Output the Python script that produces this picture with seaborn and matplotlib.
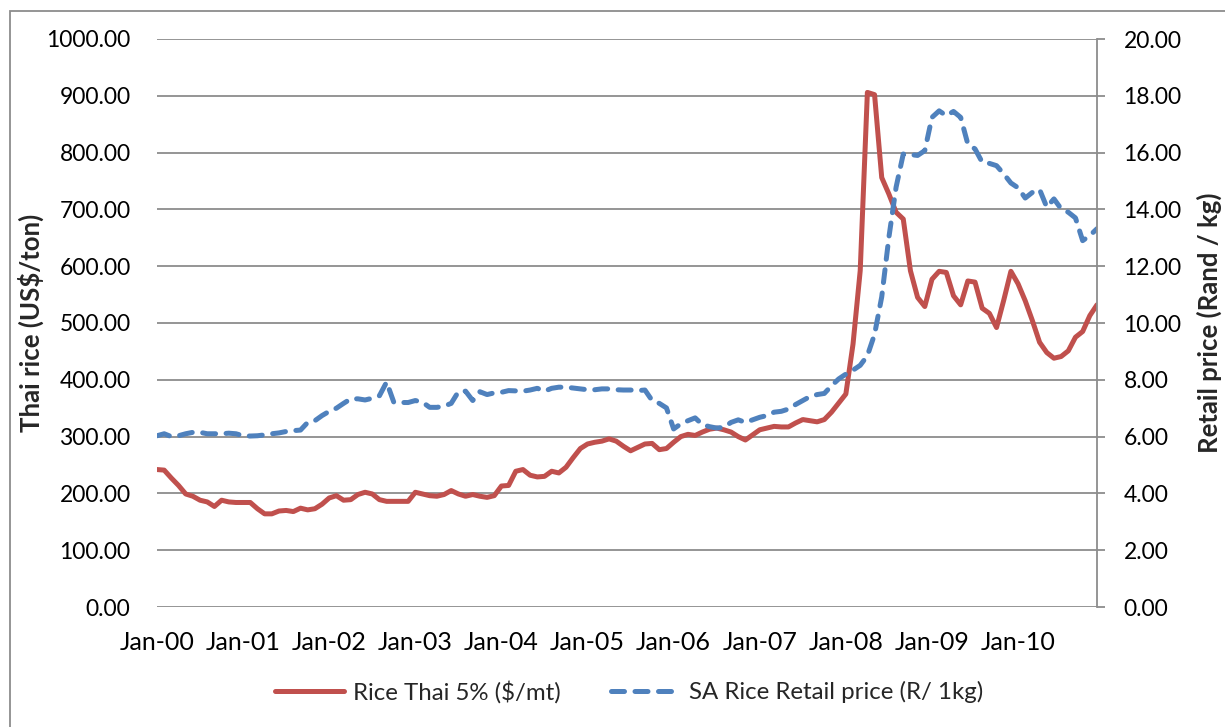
import numpy as np
import pandas as pd
import matplotlib
matplotlib.use("Agg")
import matplotlib.pyplot as plt
import seaborn as sns
from matplotlib.lines import Line2D
from matplotlib.patches import Rectangle

# ---------------- data (monthly, Jan-2000 .. Dec-2010) ----------------
thai_rice = [242, 241, 227, 214, 199, 195, 188, 185, 177, 188, 185, 184,
             184, 184, 173, 164, 164, 169, 170, 168, 174, 171, 173, 181,
             192, 196, 188, 189, 198, 202, 199, 189, 186, 186, 186, 186,
             202, 199, 196, 195, 198, 205, 199, 195, 198, 195, 193, 196,
             213, 214, 239, 242, 232, 229, 230, 239, 236, 246, 263, 279,
             287, 290, 292, 296, 292, 283, 275, 281, 287, 288, 277, 279,
             290, 300, 304, 302, 308, 313, 315, 312, 308, 300, 294, 303,
             312, 315, 318, 317, 317, 324, 330, 328, 326, 330, 343, 359,
             375, 463, 592, 906, 902, 756, 727, 695, 683, 592, 545, 529,
             577, 591, 589, 548, 532, 574, 572, 526, 517, 492, 540, 591,
             569, 539, 504, 466, 448, 438, 441, 451, 475, 485, 513, 532]

sa_retail = [6.03, 6.10, 6.00, 6.03, 6.10, 6.15, 6.15, 6.10, 6.10, 6.10, 6.12, 6.10,
             6.03, 6.02, 6.03, 6.06, 6.10, 6.13, 6.18, 6.21, 6.23, 6.50, 6.56, 6.74,
             6.89, 7.00, 7.17, 7.33, 7.33, 7.29, 7.35, 7.44, 7.92, 7.21, 7.20, 7.20,
             7.27, 7.21, 7.03, 7.03, 7.07, 7.17, 7.58, 7.60, 7.27, 7.58, 7.48, 7.54,
             7.56, 7.62, 7.61, 7.60, 7.64, 7.70, 7.60, 7.70, 7.74, 7.74, 7.71, 7.68,
             7.65, 7.65, 7.68, 7.68, 7.65, 7.64, 7.64, 7.62, 7.64, 7.27, 7.17, 7.01,
             6.27, 6.45, 6.56, 6.66, 6.42, 6.35, 6.30, 6.33, 6.50, 6.59, 6.50, 6.59,
             6.68, 6.74, 6.86, 6.89, 6.97, 7.13, 7.27, 7.41, 7.48, 7.52, 7.79, 8.03,
             8.20, 8.34, 8.51, 8.85, 9.60, 10.92, 13.02, 14.78, 15.95, 15.93, 15.90, 16.07,
             17.24, 17.47, 17.30, 17.45, 17.24, 16.30, 16.13, 15.66, 15.62, 15.54, 15.25, 14.93,
             14.76, 14.40, 14.60, 14.70, 14.08, 14.37, 14.02, 13.90, 13.70, 12.90, 13.08, 13.32]

month_index = list(range(len(thai_rice)))
x_tick_labels = ["Jan-00", "Jan-01", "Jan-02", "Jan-03", "Jan-04", "Jan-05",
                 "Jan-06", "Jan-07", "Jan-08", "Jan-09", "Jan-10"]
left_ticks = [0, 100, 200, 300, 400, 500, 600, 700, 800, 900, 1000]
right_ticks = [0, 2, 4, 6, 8, 10, 12, 14, 16, 18, 20]

series_thai = "Rice Thai 5% ($/mt)"
series_sa = "SA Rice Retail price (R/ 1kg)"

df = pd.DataFrame({"month": month_index, "thai": thai_rice, "sa": sa_retail})

# ---------------- style ----------------
sns.set_style("white")
plt.rcParams["font.family"] = ["Lato", "DejaVu Sans"]

RED = "#C0504D"
BLUE = "#4F81BD"
GRID = "#8C8C8C"
FS_NUM = 16.5
FS_TXT = 18.5
FS_LEG = 17.3
LW = 3.6
DASH = [2.6, 2.1]

W, H = 1225, 727
fig = plt.figure(figsize=(W / 100, H / 100), dpi=100)
L, R, T, B = 157, 1097, 39, 607
ax = fig.add_axes([L / W, 1 - B / H, (R - L) / W, (B - T) / H])
ax2 = ax.twinx()

sns.lineplot(data=df, x="month", y="thai", ax=ax, color=RED, linewidth=LW,
             label=series_thai, legend=False)
sns.lineplot(data=df, x="month", y="sa", ax=ax2, color=BLUE, linewidth=LW,
             label=series_sa, legend=False)
blue_line = ax2.lines[-1]
blue_line.set_linestyle((0, DASH))
blue_line.set_dash_capstyle("round")
ax.lines[-1].set_solid_joinstyle("round")

ax.set_xlim(0, len(thai_rice) - 1)
ax.set_ylim(0, 1000)
ax2.set_ylim(0, 20)

ax.set_xticks(month_index[::12])
ax.set_xticklabels(x_tick_labels)
ax.set_yticks(left_ticks)
ax.set_yticklabels([f"{v:.2f}" for v in left_ticks])
ax2.set_yticks(right_ticks)
ax2.set_yticklabels([f"{v:.2f}" for v in right_ticks])

ax.yaxis.grid(True, color=GRID, linewidth=1.3)
ax.xaxis.grid(False)
ax.set_axisbelow(True)

for s in ["left", "top", "right", "bottom"]:
    ax.spines[s].set_visible(False)
for s in ["left", "top", "bottom"]:
    ax2.spines[s].set_visible(False)
ax2.spines["right"].set_color(GRID)
ax2.spines["right"].set_linewidth(1.3)

ax.tick_params(axis="y", length=0, pad=19, labelsize=FS_NUM, labelcolor="black")
ax.tick_params(axis="x", length=0, pad=17, labelsize=FS_TXT - 0.5, labelcolor="black")
ax2.tick_params(axis="y", length=6, width=1.3, color=GRID, direction="out",
                pad=13, labelsize=FS_NUM, labelcolor="black")

ax.set_xlabel("")
ax.set_ylabel("Thai rice (US$/ton)", fontsize=FS_TXT, fontweight="bold", labelpad=2)
ax2.set_ylabel("Retail price (Rand / kg)", fontsize=FS_TXT, fontweight="bold",
               rotation=90, labelpad=11)

# legend
handles = [Line2D([0], [0], color=RED, lw=LW),
           Line2D([0], [0], color=BLUE, lw=LW, linestyle=(0, DASH),
                  dash_capstyle="round")]
fig.legend(handles, [series_thai, series_sa], loc="center",
           bbox_to_anchor=(629 / W, 1 - 692 / H), ncol=2, frameon=False,
           fontsize=FS_LEG, handlelength=2.9, handletextpad=0.35, columnspacing=2.1)

# outer chart border (cropped at right/bottom as in the reference)
fig.patches.append(Rectangle((10 / W, -0.05), 1.2, 1 - 11 / H + 0.05,
                             transform=fig.transFigure, fill=False,
                             edgecolor=GRID, linewidth=1.3))

fig.savefig("out.png", dpi=100)
